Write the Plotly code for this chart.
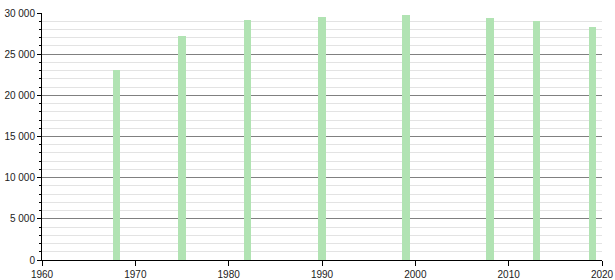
import plotly.graph_objects as go

years = [1968, 1975, 1982, 1990, 1999, 2008, 2013, 2019]
population = [23100, 27200, 29150, 29480, 29760, 29390, 28990, 28340]

x_ticks = [1960, 1970, 1980, 1990, 2000, 2010, 2020]
y_ticks = [0, 5000, 10000, 15000, 20000, 25000, 30000]

fig = go.Figure()
fig.add_trace(go.Bar(
    x=years, y=population, width=0.82,
    marker=dict(color="#b1e3b3", line=dict(width=0)),
    hoverinfo="x+y",
))

fig.update_layout(
    width=615, height=280,
    margin=dict(l=42, r=12.5, t=13, b=20, autoexpand=False),
    paper_bgcolor="white", plot_bgcolor="white",
    separators=". ",
    showlegend=False,
    font=dict(family="Liberation Sans, Arial, sans-serif", size=10, color="#222"),
    bargap=0,
)
fig.update_xaxes(
    range=[1960, 2020], tickvals=x_ticks, ticktext=[str(v) for v in x_ticks],
    showgrid=False, zeroline=False, automargin=False,
    showline=True, linecolor="black", linewidth=1,
    ticks="outside", ticklen=5, tickcolor="black", tickwidth=1,
)
fig.update_yaxes(
    range=[0, 30000], tickvals=y_ticks, tickformat=",d",
    showgrid=True, gridcolor="#808080", gridwidth=1,
    zeroline=False, automargin=False,
    showline=True, linecolor="black", linewidth=1,
    ticks="outside", ticklen=4, tickcolor="black", tickwidth=1,
    minor=dict(dtick=1000, showgrid=True, gridcolor="#e3e3e3", gridwidth=1,
               ticks="outside", ticklen=2, tickcolor="black"),
)

fig.write_html("out.html")
